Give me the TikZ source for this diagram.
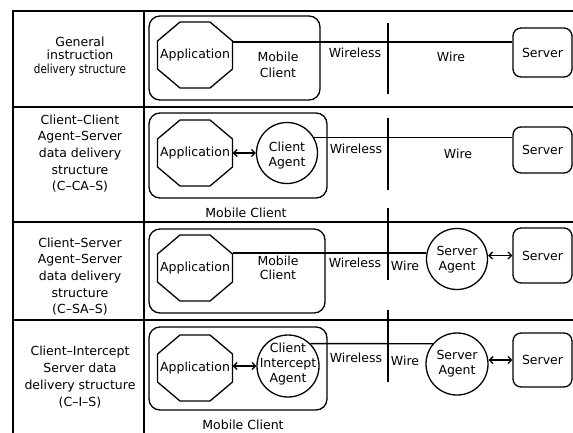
\documentclass[tikz,border=0pt]{standalone}
\usepackage{fontspec}
\setmainfont{DejaVu Sans}
\usetikzlibrary{arrows.meta}
\newcommand\octdraw[1]{\draw[line width=1.3pt] (#1.center) ++(-15,-33) -- ++(30,0) -- ++(22.5,19) -- ++(0,28) -- ++(-22.5,19) -- ++(-30,0) -- ++(-22.5,-19) -- ++(0,-28) -- cycle;}
\begin{document}
\begin{tikzpicture}[x=1pt,y=-1pt,
  every node/.style={font=\fontsize{12.5}{15}\selectfont, inner sep=0pt, align=center},
  tbl/.style={line width=1.3pt},
  conn/.style={line width=1.3pt},
  mcbox/.style={draw, rounded corners=11pt, line width=1.3pt},
  srvbox/.style={draw, rounded corners=8pt, line width=1.3pt, minimum width=59pt},
  agent/.style={draw, circle, line width=1.3pt, minimum size=61pt},
  appnode/.style={minimum width=75pt, minimum height=66pt},
  biarrow/.style={line width=1.3pt, {Straight Barb[length=3.5pt,width=7pt]}-{Straight Barb[length=3.5pt,width=7pt]}}
]
\useasboundingbox (0,0) rectangle (573,432);
% table
\draw[tbl] (13,436) -- (13,11) -- (576,11);
\draw[tbl] (144,11) -- (144,436);
\draw[tbl] (13,107) -- (576,107);
\draw[tbl] (13,222) -- (576,222);
\draw[tbl] (13,320) -- (576,320);
% left texts
\node[font=\fontsize{12.5}{13.5}\selectfont] (lt1) at (80,56.5) {General\\instruction\\\scalebox{0.83}[1]{delivery structure}};
\node[font=\fontsize{12.5}{16.7}\selectfont] (lt2) at (80,153.5) {Client–Client\\Agent–Server\\data delivery\\structure\\(C–CA–S)};
\node[font=\fontsize{12.5}{16.7}\selectfont] (lt3) at (80,276.5) {Client–Server\\Agent–Server\\data delivery\\structure\\(C–SA–S)};
\node[font=\fontsize{12.5}{17}\selectfont] (lt4) at (80,377.5) {Client–Intercept\\Server data\\delivery structure\\(C–I–S)};
% wireless/wire divider
\draw[conn] (388,23) -- (388,94);
\draw[conn] (388,118) -- (388,190);
\draw[conn] (388,208) -- (388,280);
\draw[conn] (388,310) -- (388,382);
% row 1
\node[mcbox, minimum width=171pt, minimum height=84pt] (mc1) at (234.5,58) {};
\node[appnode] (app1) at (195,55) {Application}; \octdraw{app1}
\node[font=\fontsize{12.5}{16}\selectfont] (mct1) at (278,65) {Mobile\\Client};
\node[srvbox, minimum height=49pt] (srv1) at (542.5,52.5) {Server};
\draw[conn] ([yshift=13pt]app1.east) -- ([yshift=13pt]app1.east -| srv1.west);
\node (wl1) at (355,53) {Wireless};
\node (wi1) at (451,57) {Wire};
% row 2
\node[mcbox, minimum width=178pt, minimum height=85pt] (mc2) at (238,155.5) {};
\node[appnode] (app2) at (195,153) {Application}; \octdraw{app2}
\node[agent] (ca2) at (287,153) {};
\node (cat2) at (287,156) {Client\\Agent};
\node[srvbox, minimum height=46pt] (srv2) at (542.5,150) {Server};
\draw[biarrow] (app2.east) -- (ca2.west);
\draw[conn] (ca2.30) -- (ca2.30 -| srv2.west);
\node (wl2) at (356,149) {Wireless};
\node (wi2) at (458,154) {Wire};
\node (mct2) at (246,213) {Mobile Client};
% row 3
\node[mcbox, minimum width=176pt, minimum height=84pt] (mc3) at (237,271) {};
\node[appnode] (app3) at (195,268) {Application}; \octdraw{app3}
\node[font=\fontsize{12.5}{14}\selectfont] (mct3) at (278,268) {Mobile\\Client};
\node[agent] (sa3) at (457,259) {};
\node (sat3) at (457,260) {Server\\Agent};
\node[srvbox, minimum height=55pt] (srv3) at (542.5,255.5) {Server};
\draw[conn] ([yshift=15pt]app3.east) -- ([yshift=15pt]app3.east -| sa3.west);
\draw[biarrow] (sa3.east |- srv3.west) -- (srv3.west);
\node (wl3) at (355,263) {Wireless};
\node (wi3) at (405,266) {Wire};
% row 4
\node[mcbox, minimum width=178pt, minimum height=83pt] (mc4) at (238,368.5) {};
\node[appnode] (app4) at (195,368) {Application}; \octdraw{app4}
\node[agent, minimum size=62pt] (cia4) at (288,366) {};
\node (ciat4) at (288,364) {Client\\Intercept\\Agent};
\node[agent, minimum size=62pt] (sa4) at (457,364) {};
\node (sat4) at (457,364) {Server\\Agent};
\node[srvbox, minimum height=54pt] (srv4) at (542.5,360) {Server};
\draw[biarrow] (cia4.west -| app4.east) -- (cia4.west);
\draw[conn] (cia4.45) -- (sa4.140);
\draw[biarrow] (sa4.east |- srv4.west) -- (srv4.west);
\node (wl4) at (356,358) {Wireless};
\node (wi4) at (405,361) {Wire};
\node (mct4) at (243,425) {Mobile Client};
\end{tikzpicture}
\end{document}
